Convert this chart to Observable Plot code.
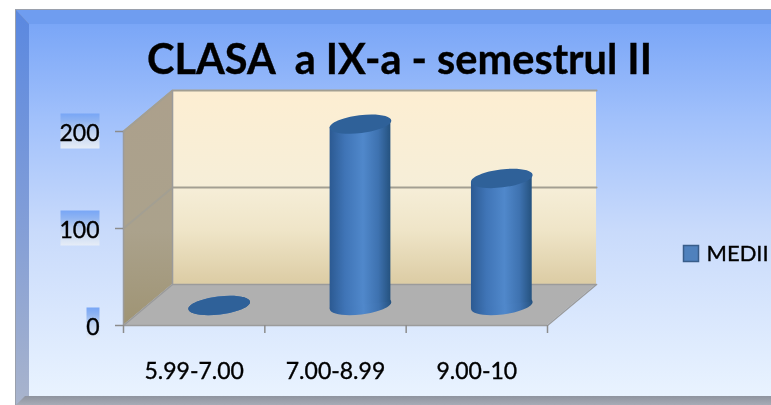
<!DOCTYPE html>
<html>
<head>
<meta charset="utf-8">
<script src="https://cdn.jsdelivr.net/npm/d3@7"></script>
<script src="https://cdn.jsdelivr.net/npm/@observablehq/plot@0.6"></script>
<style>
html,body{margin:0;padding:0;background:#fff;overflow:hidden}
svg{display:block;filter:blur(0.55px)}
svg text{stroke:#000;stroke-width:.35px}
</style>
</head>
<body>
<div id="chart"></div>
<script>
const categories = ["5.99-7.00", "7.00-8.99", "9.00-10"];
const medii = [0, 187, 131];
const yTicks = [0, 100, 200];
const seriesName = "MEDII";
const chartTitle = "CLASA  a IX-a - semestrul II";

// 3D depth, expressed in data units of the two axes
const depthX = 0.347, depthY = 42.3;
const barGap = 0.285;
const tilt = 3.6;
const barShiftX = 25, barShiftY = -20;
const N = categories.length, T = yTicks[yTicks.length - 1];
const font = "Lato, 'Open Sans', sans-serif";

function tiltedEllipse(a, b, deg) {
  const t = deg * Math.PI / 180, c = Math.cos(t), s = Math.sin(t), k = 0.5523;
  const P = (x, y) => [x * c - y * s, x * s + y * c];
  return {draw(ctx) {
    ctx.moveTo(...P(a, 0));
    ctx.bezierCurveTo(...P(a, k * b), ...P(k * a, b), ...P(0, b));
    ctx.bezierCurveTo(...P(-k * a, b), ...P(-a, k * b), ...P(-a, 0));
    ctx.bezierCurveTo(...P(-a, -k * b), ...P(-k * a, -b), ...P(0, -b));
    ctx.bezierCurveTo(...P(k * a, -b), ...P(a, -k * b), ...P(a, 0));
    ctx.closePath();
  }};
}
const boxSymbol = (l, r, t, b) => ({draw(ctx) { ctx.rect(l, t, r - l, b - t); }});

function defs() {
  const g = document.createElementNS("http://www.w3.org/2000/svg", "g");
  g.innerHTML = `<defs>
  <linearGradient id="bg" x1="0" y1="0" x2="0" y2="1">
    <stop offset="0" stop-color="#7aa6f7"/><stop offset=".25" stop-color="#a0c0fb"/>
    <stop offset=".55" stop-color="#c8dafb"/><stop offset="1" stop-color="#e9f3ff"/>
  </linearGradient>
  <linearGradient id="wall" x1="0" y1="0" x2="0" y2="1">
    <stop offset="0" stop-color="#fdeed2"/><stop offset=".5" stop-color="#f6eed8"/>
    <stop offset=".72" stop-color="#efe5c8"/><stop offset="1" stop-color="#dccca4"/>
  </linearGradient>
  <linearGradient id="side" x1="0" y1="0" x2="0" y2="1">
    <stop offset="0" stop-color="#aca08c"/><stop offset=".6" stop-color="#aba28c"/><stop offset="1" stop-color="#9f9474"/>
  </linearGradient>
  <linearGradient id="cyl" x1="0" y1="0" x2="1" y2="0">
    <stop offset="0" stop-color="#2c5a92"/><stop offset=".25" stop-color="#3f74b6"/>
    <stop offset=".55" stop-color="#5088cb"/><stop offset=".8" stop-color="#3e72b0"/>
    <stop offset="1" stop-color="#25527f"/>
  </linearGradient>
  <linearGradient id="lab" x1="0" y1="0" x2="0" y2="1">
    <stop offset="0" stop-color="#78a6f6"/><stop offset=".22" stop-color="#8fb4f2"/>
    <stop offset=".5" stop-color="#bcd0f0"/><stop offset="1" stop-color="#e6edf7"/>
  </linearGradient>
  <linearGradient id="bevL" x1="0" y1="0" x2="0" y2="1">
    <stop offset="0" stop-color="#5a88e0"/><stop offset=".5" stop-color="#7f9cd8"/><stop offset="1" stop-color="#a9b4cc"/>
  </linearGradient>
  <linearGradient id="bevB" x1="0" y1="0" x2="0" y2="1">
    <stop offset="0" stop-color="#8f949f"/><stop offset="1" stop-color="#a6abb6"/>
  </linearGradient></defs>
  <polygon points="15,9 771,9 771,405 15,405" fill="#9aa0ac"/>
  <polygon points="16,10 771,10 771,24 29,24" fill="#6f9df0"/>
  <polygon points="16,10 29,24 29,396 16,405" fill="url(#bevL)"/>
  <polygon points="29,24 771,24 771,396 29,396" fill="url(#bg)"/>
  <polygon points="16,405 25,396 771,396 771,405" fill="url(#bevB)"/>`;
  return g;
}

const barEdges = medii.flatMap((v, i) => [
  {cat: categories[i], x: i + barGap, y1: -tilt, y2: v - tilt},
  {cat: categories[i], x: i + 1 - barGap, y1: tilt, y2: v + tilt}
]);
const bars = medii.map((v, i) => ({x: i + 0.5, y: v}));
const grey = "#9b9b9b";

const chart = Plot.plot({
  width: 771, height: 405,
  marginLeft: 123, marginRight: 224, marginTop: 131, marginBottom: 80,
  x: {type: "linear", domain: [0, N], axis: null},
  y: {domain: [0, T], axis: null},
  style: {background: "#fff", fontFamily: font, overflow: "visible"},
  marks: [
    defs,
    // back wall, floor and side wall
    Plot.rect([0], {x1: depthX, x2: N + depthX, y1: depthY, y2: T + depthY, fill: "url(#wall)"}),
    Plot.areaX([0, 1], {y: d => d * depthY, x1: d => d * depthX, x2: d => N + d * depthX, fill: "#b0b0b0"}),
    Plot.areaY([0, 1], {x: d => d * depthX, y1: d => d * depthY, y2: d => T + d * depthY, fill: "url(#side)"}),
    // gridlines
    ...yTicks.slice(1).map(t => Plot.line(
      [[0, t], [depthX, t + depthY], [N + depthX, t + depthY]],
      {x: d => d[0], y: d => d[1], stroke: "#a39f92", strokeWidth: 2})),
    // wall edges
    Plot.line([[0, T], [0, 0], [depthX, depthY], [depthX, T + depthY]],
      {x: d => d[0], y: d => d[1], stroke: grey, strokeWidth: 1.5}),
    Plot.line([[0, 0], [N, 0], [N + depthX, depthY], [depthX, depthY]],
      {x: d => d[0], y: d => d[1], stroke: grey, strokeWidth: 1.5}),
    // tick-label patches
    Plot.dot(yTicks.slice(1), {y: d => d, frameAnchor: "left", symbol: boxSymbol(-63, -24, -18, 17), fill: "url(#lab)", stroke: "none"}),
    Plot.dot(yTicks.slice(0, 1), {y: d => d, frameAnchor: "left", symbol: boxSymbol(-37, -24, -18, 14), fill: "url(#lab)", stroke: "none"}),
    // axes
    Plot.axisY({ticks: yTicks, tickSize: 8, tickFormat: () => "", label: null, stroke: "#8c8c8c", strokeWidth: 1.5}),
    Plot.axisY({ticks: yTicks, tickSize: 0, tickPadding: 24, dy: 2, label: null, fontSize: 23, fill: "#000", tickFormat: d => d}),
    Plot.axisX({ticks: d3.range(N + 1), tickSize: 8, tickFormat: () => "", label: null, stroke: "#8c8c8c", strokeWidth: 1.5}),
    Plot.axisX({ticks: categories.map((_, i) => i + 0.5), tickSize: 0, tickPadding: 37, fontSize: 23, label: null, fill: "#000", tickFormat: d => categories[Math.floor(d)]}),
    // cylinders
    Plot.dot(bars, {x: "x", y: 0, dx: barShiftX, dy: barShiftY, symbol: tiltedEllipse(31, 9, -7), fill: "url(#cyl)", stroke: "none"}),
    Plot.areaY(barEdges, {x: "x", y1: "y1", y2: "y2", z: "cat", dx: barShiftX, dy: barShiftY, fill: "url(#cyl)", curve: "linear"}),
    Plot.dot(bars, {x: "x", y: "y", dx: barShiftX, dy: barShiftY, symbol: tiltedEllipse(31, 9, -7), fill: "#2f6199", stroke: "none"}),
    // title & legend
    Plot.text([chartTitle], {text: d => d, frameAnchor: "top-left", dx: 399 - 123, dy: 60 - 131, fontSize: 41.5, fontWeight: 700, fill: "#000", textAnchor: "middle", lineAnchor: "middle"}),
    Plot.dot([seriesName], {frameAnchor: "top-left", dx: 690.5 - 123, dy: 253 - 131, symbol: boxSymbol(-7.5, 7.5, -8, 8), fill: "#4f81bd", stroke: "#385d8a", strokeWidth: 1.5}),
    Plot.text([seriesName], {text: d => d, frameAnchor: "top-left", dx: 706 - 123, dy: 253 - 131, fontSize: 22, fill: "#000", textAnchor: "start", lineAnchor: "middle"})
  ]
});
document.getElementById("chart").append(chart);
</script>
</body>
</html>
